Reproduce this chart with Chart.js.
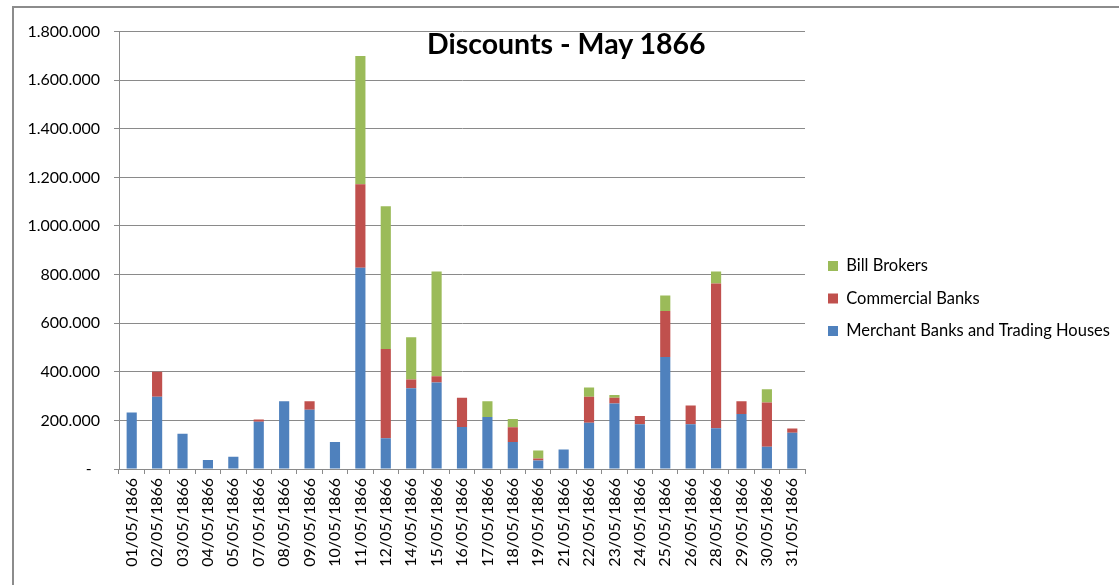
<!DOCTYPE html>
<html>
<head>
<meta charset="utf-8">
<script src="https://cdn.jsdelivr.net/npm/chart.js@4.4.0/dist/chart.umd.min.js"></script>
<style>
html, body { margin: 0; padding: 0; background: #fff; }
#frame {
    position: absolute; left: 12px; top: 6px; width: 1105px; height: 577px;
    border-top: 2px solid #8c8c8c; border-left: 2px solid #8c8c8c;
}
#title {
    position: absolute; left: 427px; top: 26px;
    font: bold 28.5px Lato, sans-serif; color: #000; white-space: nowrap;
}
</style>
</head>
<body>
<div id="frame"><canvas id="discounts" width="1105" height="577"></canvas></div>
<div id="title">Discounts - May 1866</div>
<script>
// days of May 1866 with discount figures
var days = ["01/05/1866", "02/05/1866", "03/05/1866", "04/05/1866", "05/05/1866", "07/05/1866",
    "08/05/1866", "09/05/1866", "10/05/1866", "11/05/1866", "12/05/1866", "14/05/1866",
    "15/05/1866", "16/05/1866", "17/05/1866", "18/05/1866", "19/05/1866", "21/05/1866",
    "22/05/1866", "23/05/1866", "24/05/1866", "25/05/1866", "26/05/1866", "28/05/1866",
    "29/05/1866", "30/05/1866", "31/05/1866"];

var merchantBanks = [232000, 297000, 145000, 37000, 50000, 194000, 279000, 244000, 111000,
    828000, 127000, 332000, 356000, 173000, 214000, 111000, 35000, 80000, 190000, 270000,
    184000, 461000, 184000, 168000, 226000, 92000, 149000];
var commercialBanks = [0, 103000, 0, 0, 0, 10000, 0, 35000, 0, 344000, 367000, 36000, 26000,
    120000, 0, 61000, 8000, 0, 107000, 23000, 34000, 189000, 77000, 595000, 53000, 182000, 18000];
var billBrokers = [0, 0, 0, 0, 0, 0, 0, 0, 0, 528000, 587000, 174000, 431000, 0, 65000, 34000,
    33000, 0, 38000, 12000, 0, 64000, 0, 50000, 0, 54000, 0];

var yTicks = [0, 200000, 400000, 600000, 800000, 1000000, 1200000, 1400000, 1600000, 1800000];

var color_blue = "#4F81BD";
var color_red = "#C0504D";
var color_green = "#9BBB59";
var gridGray = "#8a8a8a";

Chart.defaults.font.family = "Lato, sans-serif";
Chart.defaults.font.size = 16;
Chart.defaults.color = "#000";

function fmt(v) {
    if (v === 0) return "-  ";
    return v.toString().replace(/\B(?=(\d{3})+(?!\d))/g, ".");
}

// legend is wider than its items, and the items sit a bit to the right / higher
const legendPlace = {
    id: "legendPlace",
    beforeInit(chart) {
        const fit = chart.legend.fit;
        chart.legend.fit = function () {
            fit.bind(chart.legend)();
            this.width = 314;
        };
    },
    afterLayout(chart) {
        chart.legend.left += 7;
        chart.legend.right += 7;
        chart.legend.top -= 7;
        chart.legend.bottom -= 7;
    },
};

var chart = new Chart("discounts", {
    type: "bar",
    data: {
        labels: days,
        datasets: [
            { label: "Merchant Banks and Trading Houses", data: merchantBanks, backgroundColor: color_blue },
            { label: "Commercial Banks", data: commercialBanks, backgroundColor: color_red },
            { label: "Bill Brokers", data: billBrokers, backgroundColor: color_green },
        ],
    },
    options: {
        responsive: false,
        animation: false,
        categoryPercentage: 1,
        barPercentage: 0.4,
        layout: { padding: { top: 18, left: 0, right: 0, bottom: 0 } },
        plugins: {
            title: { display: false },
            tooltip: { enabled: false },
            legend: {
                position: "right",
                reverse: true,
                labels: {
                    boxWidth: 10,
                    boxHeight: 10,
                    padding: 16,
                    color: "#000",
                    font: { size: 16.5 },
                },
            },
        },
        scales: {
            x: {
                stacked: true,
                grid: {
                    offset: true,
                    drawOnChartArea: false,
                    drawTicks: true,
                    tickLength: 5,
                    color: gridGray,
                },
                border: { color: gridGray },
                ticks: {
                    minRotation: 90,
                    maxRotation: 90,
                    autoSkip: false,
                    padding: 4,
                    font: { size: 16 },
                },
                afterFit(scale) { scale.height = 116; },
            },
            y: {
                stacked: true,
                min: 0,
                max: 1800000,
                afterBuildTicks(scale) { scale.ticks = yTicks.map((v) => ({ value: v })); },
                grid: { color: gridGray, tickLength: 5 },
                border: { color: gridGray },
                ticks: {
                    padding: 14,
                    font: { size: 16 },
                    callback: function (v) { return fmt(v); },
                },
                afterFit(scale) { scale.width = 105; },
            },
        },
    },
    plugins: [legendPlace],
});
</script>
</body>
</html>
